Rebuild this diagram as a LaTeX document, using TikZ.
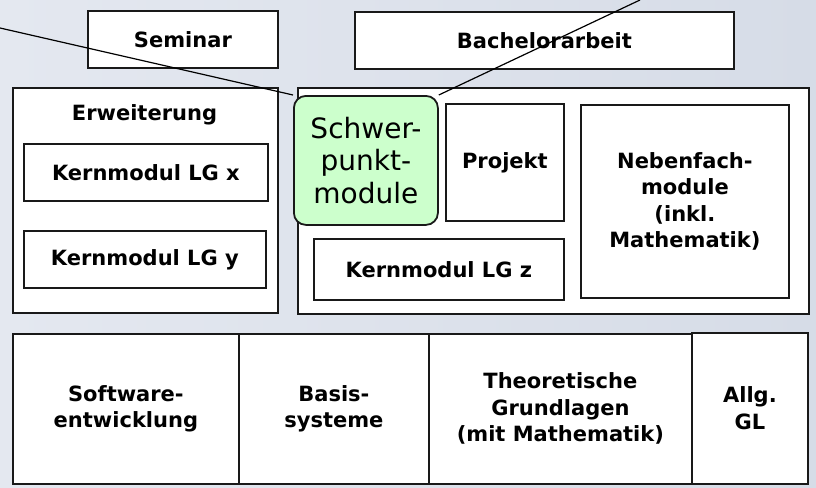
\documentclass[tikz,border=0pt]{standalone}
\usepackage{fontspec}
\setmainfont{DejaVu Sans}
\usepackage{tikz}
\definecolor{slidebg}{RGB}{214,220,231}
\definecolor{slidebgleft}{RGB}{228,232,240}
\definecolor{focusgreen}{RGB}{204,255,204}
\definecolor{boxline}{RGB}{25,25,25}

\begin{document}
\begin{tikzpicture}[
    x=1pt, y=-1pt,
    every node/.style={inner sep=0pt, align=center, font=\bfseries\fontsize{21}{26.5}\selectfont},
    modbox/.style={draw=boxline, fill=white, line width=1.8pt, anchor=north west},
    focusbox/.style={draw=boxline, fill=focusgreen, line width=1.8pt, rounded corners=12pt, anchor=north west,
        font=\fontsize{28}{32.5}\selectfont}
]
\useasboundingbox (0,0) rectangle (816,487);
\shade[left color=slidebgleft, right color=slidebg] (0,0) rectangle (816,487);

% top row
\node[modbox, minimum width=190pt, minimum height=57pt] (seminar) at (87,10) {Seminar};
\node[modbox, minimum width=379pt, minimum height=57pt] (thesis) at (354,11) {Bachelorarbeit};

% Erweiterung
\node[modbox, minimum width=265pt, minimum height=225pt] (ext) at (12,87) {};
\node (exttitle) at (144.5,115) {Erweiterung};
\node[modbox, minimum width=244pt, minimum height=57pt] (lgx) at (23,143) {Kernmodul LG x};
\node[modbox, minimum width=242pt, minimum height=57pt] (lgy) at (23,230) {Kernmodul LG y};

% Kern
\node[modbox, minimum width=511pt, minimum height=226pt] (core) at (297,87) {};
\node[focusbox, minimum width=144pt, minimum height=129pt] (focus) at (293,95) {Schwer-\\punkt-\\module};
\node[modbox, minimum width=118pt, minimum height=117pt] (project) at (445,103) {Projekt};
\node[modbox, minimum width=208pt, minimum height=193pt] (minor) at (580,104) {Nebenfach-\\module\\(inkl.\\Mathematik)};
\node[modbox, minimum width=250pt, minimum height=61pt] (lgz) at (313,238) {Kernmodul LG z};

% Grundlagen
\node[modbox, minimum width=226pt, minimum height=150pt] (swe) at (12,333) {Software-\\entwicklung};
\node[modbox, minimum width=190pt, minimum height=150pt] (basis) at (238,333) {Basis-\\systeme};
\node[modbox, minimum width=263pt, minimum height=150pt] (theory) at (428,333) {Theoretische\\Grundlagen\\(mit Mathematik)};
\node[modbox, minimum width=116pt, minimum height=151pt] (gl) at (691,332) {Allg.\\GL};

% Verweislinien
\coordinate (leftend) at (0,28);
\coordinate (topend) at (640,0);
\draw[line width=1.2pt] (leftend) -- (focus.north west);
\draw[line width=1.2pt] (focus.north east) -- (topend);
\end{tikzpicture}
\end{document}
